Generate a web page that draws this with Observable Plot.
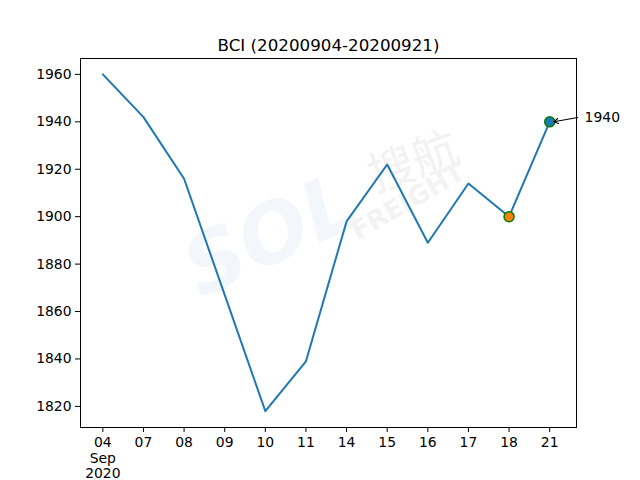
<!DOCTYPE html>
<html>
<head>
<meta charset="utf-8">
<script src="https://cdn.jsdelivr.net/npm/d3@7"></script>
<script src="https://cdn.jsdelivr.net/npm/@observablehq/plot@0.6"></script>
<style>
  html, body { margin: 0; padding: 0; background: #fff; }
  svg { display: block; }
</style>
</head>
<body>
<div id="chart"></div>
<script>
// Data
const dayLabels = ["04", "07", "08", "09", "10", "11", "14", "15", "16", "17", "18", "21"];
const bciValues = [1960, 1942, 1916, 1867, 1818, 1839, 1898, 1922, 1889, 1914, 1900, 1940];
const yTicks = [1820, 1840, 1860, 1880, 1900, 1920, 1940, 1960];
const titleText = "BCI (20200904-20200921)";
const highlightPrev = {i: 10, v: 1900};
const highlightLast = {i: 11, v: 1940};
const annotationText = "1940";

const data = dayLabels.map((d, i) => ({i, label: d, v: bciValues[i]}));
const tickFmt = i => i === 0 ? "04\nSep\n2020" : dayLabels[i];

const font = "DejaVu Sans, sans-serif";

const plot = Plot.plot({
  width: 640,
  height: 480,
  marginLeft: 80,
  marginRight: 64,
  marginTop: 58,
  marginBottom: 53,
  style: {fontFamily: font, fontSize: "13.9px", color: "black", background: "white"},
  x: {domain: [-0.55, 11.66], ticks: d3.range(dayLabels.length), tickFormat: tickFmt, label: null},
  y: {domain: [1811.1, 1966.7], ticks: yTicks, tickFormat: "d", label: null},
  marks: [
    // faint watermark
    Plot.text(["SOL"], {frameAnchor: "top-left", dx: 120, dy: 240, rotate: -25, fontSize: 82, fontWeight: "bold", fontStyle: "italic", fill: "#f3f7fb", textAnchor: "start", lineAnchor: "bottom"}),
    Plot.text(["搜航"], {frameAnchor: "top-left", dx: 295, dy: 134, rotate: -20, fontSize: 46, fontFamily: "Noto Sans CJK SC", fill: "#f2f2f2", textAnchor: "start", lineAnchor: "bottom"}),
    Plot.text(["FREIGHT"], {frameAnchor: "top-left", dx: 277, dy: 182, rotate: -30, fontSize: 26, fontWeight: "bold", fill: "#f3f3f3", textAnchor: "start", lineAnchor: "bottom"}),
    Plot.frame({stroke: "black", strokeWidth: 1}),
    Plot.axisX({ticks: d3.range(dayLabels.length), tickFormat: tickFmt, tickSize: 5, tickPadding: 4, fontSize: 13.9, label: null, lineAnchor: "top", lineHeight: 1.1}),
    Plot.axisY({ticks: yTicks, tickFormat: "d", tickSize: 5, tickPadding: 4, fontSize: 13.9, label: null}),
    Plot.line(data, {x: "i", y: "v", stroke: "#1f77b4", strokeWidth: 2}),
    Plot.dot([highlightPrev], {x: "i", y: "v", r: 5, fill: "#ff7f0e", stroke: "green", strokeWidth: 1.5}),
    Plot.dot([highlightLast], {x: "i", y: "v", r: 5, fill: "#1f77b4", stroke: "green", strokeWidth: 1.5}),
    Plot.arrow([highlightLast], {x1: d => d.i + 0.69, y1: d => d.v + 1.8, x2: d => d.i + 0.1, y2: "v", stroke: "black", strokeWidth: 1.1, headLength: 7, bend: false}),
    Plot.text([highlightLast], {x: d => d.i + 0.86, y: d => d.v + 2, text: () => annotationText, textAnchor: "start", fontSize: 13.9, fill: "black"}),
    Plot.text([titleText], {frameAnchor: "top", dy: -13, fontSize: 16.7, fill: "black", lineAnchor: "middle"})
  ]
});
document.getElementById("chart").appendChild(plot);
</script>
</body>
</html>
